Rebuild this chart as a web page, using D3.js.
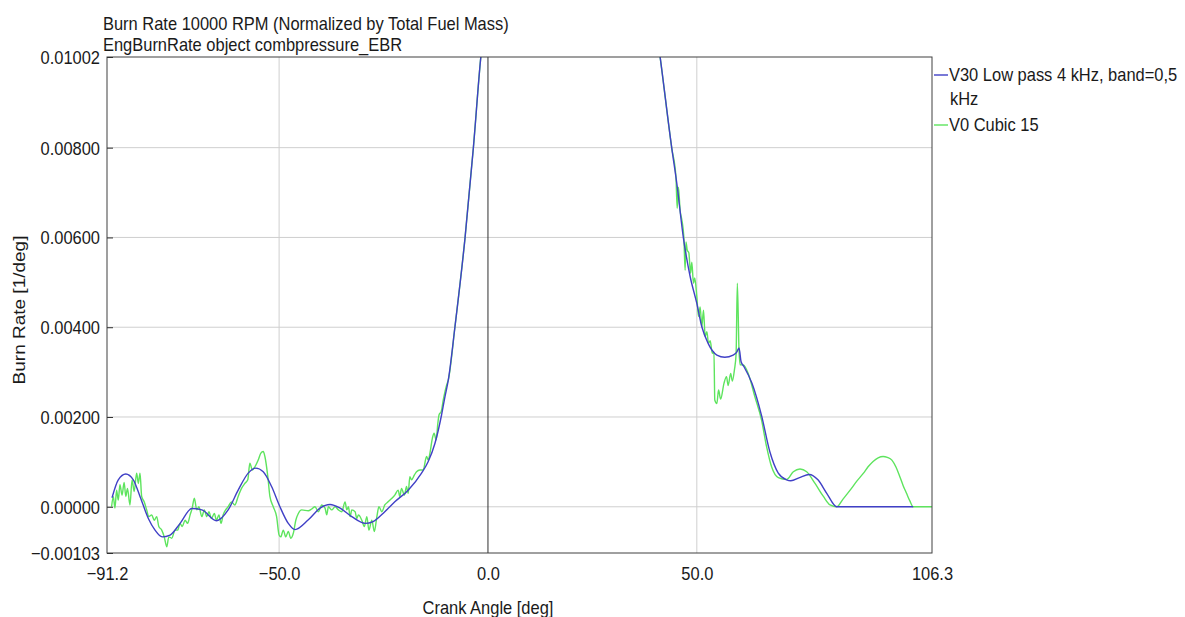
<!DOCTYPE html>
<html>
<head>
<meta charset="utf-8">
<script src="https://cdn.jsdelivr.net/npm/d3@7"></script>
<style>
    body {margin: 0; background: #fff;}
    text {font-family: "Liberation Sans", Arial, sans-serif; fill: #1a1a1a; font-size: 18.5px;
        transform-box: fill-box; transform: scaleX(0.89);}
    text.vertical {font-size: 19px; transform: scaleY(0.86);}
</style>
</head>
<body>
<svg id="chart" width="1185" height="617"></svg>
<script>
const titleLines = ["Burn Rate 10000 RPM (Normalized by Total Fuel Mass)", "EngBurnRate object combpressure_EBR"]
const xLabel = "Crank Angle [deg]"
const yLabel = "Burn Rate [1/deg]"
const xTicks = [-91.2, -50.0, 0.0, 50.0, 106.3]
const yTicks = [-0.00103, 0.0, 0.002, 0.004, 0.006, 0.008, 0.01002]
const seriesNames = [["V30 Low pass 4 kHz, band=0,5", "kHz"], ["V0 Cubic 15"]]

// V30 low pass (smooth) - crank angle / burn rate
const angleV30 = [-90.0, -88.5, -86.7, -84.9, -83.3, -81.3, -79.7, -78.0, -76.1, -73.7, -70.9, -68.5, -65.0, -62.2,
    -59.8, -57.4, -55.6, -53.8, -51.8, -49.8, -47.8, -46.2, -43.0, -40.2, -37.8, -35.4, -32.6, -29.4, -27.5, -24.7,
    -22.3, -19.1, -15.9, -14.3, -12.7, -11.1, -10.3, -9.5, -7.9, -5.5, -3.5, -1.7, -0.5, 2.0, 5.0, 10.0, 15.0, 20.0,
    25.0, 30.0, 35.0, 39.0, 41.2, 44.0, 45.2, 46.8, 48.4, 50.0, 51.2, 52.7, 54.8, 56.7, 58.7, 59.6, 60.1, 60.6, 61.3,
    63.2, 65.5, 67.5, 69.5, 71.5, 72.5, 74.6, 76.9, 79.0, 81.1, 83.5, 101.8]
const rateV30 = [0.00020, 0.00060, 0.00073, 0.00060, 0.00023, -0.00026, -0.00052, -0.00067, -0.00063, -0.00037,
    -0.00004, -0.00007, -0.00031, -0.00007, 0.00037, 0.00075, 0.00086, 0.00078, 0.00045, 0.00000, -0.00037, -0.00051,
    -0.00029, -0.00003, 0.00005, -0.00003, -0.00022, -0.00037, -0.00033, -0.00011, 0.00011, 0.00037, 0.00075, 0.00101,
    0.00141, 0.00205, 0.00245, 0.00282, 0.00401, 0.00598, 0.00799, 0.01003, 0.0110, 0.0128, 0.0152, 0.0185, 0.0205,
    0.0210, 0.0200, 0.0175, 0.0140, 0.0115, 0.01003, 0.00799, 0.00721, 0.00598, 0.00513, 0.00453, 0.00401, 0.00364,
    0.00338, 0.00333, 0.00338, 0.00345, 0.00354, 0.00323, 0.00312, 0.00275, 0.00203, 0.00122, 0.00075, 0.00060,
    0.00058, 0.00065, 0.00072, 0.00060, 0.00030, 0.00000, 0.00000]

// V0 cubic (noisy) - crank angle / burn rate
const angleV0 = [-90.1, -89.7, -89.3, -88.9, -88.5, -88.1, -87.6, -87.1, -86.7, -86.3, -85.7, -85.2, -84.7, -84.1,
    -83.7, -83.3, -82.9, -82.3, -81.7, -81.2, -80.5, -79.9, -79.3, -78.8, -78.1, -77.5, -76.9, -76.4, -75.7, -74.9,
    -74.3, -73.7, -73.2, -72.5, -71.9, -71.3, -70.8, -70.3, -69.7, -69.2, -68.5, -67.9, -67.3, -66.8, -66.2, -65.5,
    -65.0, -64.4, -63.9, -63.4, -62.8, -62.2, -61.4, -60.6, -59.8, -59.0, -58.2, -57.5, -57.0, -56.4, -55.8, -55.0,
    -54.4, -53.8, -53.4, -52.7, -52.2, -51.4, -50.6, -50.0, -49.6, -49.0, -48.4, -47.8, -47.2, -46.6, -46.0, -45.4,
    -44.6, -43.0, -42.2, -41.4, -40.6, -39.8, -39.0, -38.6, -38.2, -37.4, -36.6, -35.8, -35.0, -34.2, -33.8, -33.4,
    -33.0, -32.6, -31.8, -31.4, -31.0, -30.2, -29.6, -29.0, -28.5, -27.8, -27.2, -26.6, -26.1, -25.4, -24.7, -23.9,
    -23.0, -22.3, -21.5, -21.1, -20.7, -20.0, -19.5, -19.1, -18.7, -18.3, -17.6, -17.1, -16.3, -15.5, -14.7, -14.3,
    -13.9, -13.3, -12.9, -12.4, -12.0, -11.7, -11.2, -10.7, -9.9, -9.5, -7.9, -5.5, -3.5, -1.7, -0.5, 2.0, 5.0, 10.0,
    15.0, 20.0, 25.0, 30.0, 35.0, 39.0, 41.2, 44.0, 45.0, 45.3, 45.6, 46.0, 46.4, 46.9, 47.2, 47.4, 47.7, 48.1, 48.5,
    48.8, 49.2, 49.5, 50.0, 50.4, 50.8, 51.2, 51.6, 52.0, 52.4, 52.8, 53.2, 53.7, 54.1, 54.3, 54.8, 55.2, 55.7, 56.5,
    57.1, 57.5, 58.1, 58.5, 59.0, 59.4, 59.7, 60.1, 60.4, 61.1, 62.3, 63.9, 65.5, 66.7, 67.9, 69.5, 71.5, 73.1, 74.7,
    76.3, 78.3, 80.3, 81.9, 83.5, 85.0, 86.7, 88.3, 89.9, 91.0, 92.2, 93.4, 94.6, 95.6, 96.7, 97.7, 98.6, 99.4, 100.2,
    101.0, 101.8, 106.3]
const rateV0 = [0.00000, 0.00023, -0.00003, 0.00037, 0.00015, 0.00049, 0.00026, 0.00054, 0.00023, 0.00041, 0.00004,
    0.00060, 0.00034, 0.00075, 0.00052, 0.00075, 0.00023, 0.00011, -0.00007, -0.00022, -0.00018, -0.00030, -0.00022,
    -0.00044, -0.00052, -0.00067, -0.00089, -0.00067, -0.00070, -0.00052, -0.00052, -0.00037, -0.00044, -0.00030,
    -0.00037, -0.00018, -0.00003, 0.00019, -0.00007, 0.00000, -0.00022, -0.00007, -0.00022, -0.00011, -0.00026,
    -0.00015, -0.00030, -0.00018, -0.00037, -0.00018, -0.00007, 0.00000, 0.00011, 0.00004, 0.00023, 0.00041, 0.00052,
    0.00060, 0.00097, 0.00082, 0.00089, 0.00104, 0.00119, 0.00123, 0.00112, 0.00067, 0.00023, 0.00000, -0.00022,
    -0.00063, -0.00067, -0.00052, -0.00067, -0.00055, -0.00070, -0.00059, -0.00030, -0.00015, -0.00007, -0.00009,
    -0.00005, 0.00000, -0.00011, 0.00004, -0.00003, -0.00018, 0.00000, -0.00007, 0.00000, -0.00007, -0.00011, 0.00011,
    -0.00007, 0.00000, -0.00022, -0.00007, -0.00011, -0.00026, -0.00018, -0.00030, -0.00044, -0.00022, -0.00052,
    -0.00030, -0.00055, -0.00022, 0.00000, -0.00011, 0.00004, 0.00011, 0.00019, 0.00026, 0.00037, 0.00023, 0.00041,
    0.00026, 0.00045, 0.00030, 0.00067, 0.00060, 0.00071, 0.00078, 0.00082, 0.00082, 0.00112, 0.00104, 0.00119,
    0.00153, 0.00164, 0.00149, 0.00186, 0.00205, 0.00212, 0.00238, 0.00271, 0.00282, 0.00401, 0.00598, 0.00799,
    0.01003, 0.0110, 0.0128, 0.0152, 0.0185, 0.0205, 0.0210, 0.0200, 0.0175, 0.0140, 0.0115, 0.01003, 0.00799,
    0.00735, 0.00665, 0.00712, 0.00660, 0.00640, 0.00600, 0.00527, 0.00590, 0.00572, 0.00565, 0.00520, 0.00545,
    0.00498, 0.00510, 0.00468, 0.00424, 0.00445, 0.00401, 0.00438, 0.00379, 0.00390, 0.00364, 0.00370, 0.00342,
    0.00345, 0.00238, 0.00230, 0.00260, 0.00240, 0.00275, 0.00290, 0.00270, 0.00297, 0.00280, 0.00305, 0.00340,
    0.00498, 0.00349, 0.00316, 0.00316, 0.00297, 0.00245, 0.00193, 0.00134, 0.00089, 0.00065, 0.00061, 0.00078,
    0.00084, 0.00078, 0.00052, 0.00023, 0.00004, 0.00000, 0.00017, 0.00037, 0.00057, 0.00075, 0.00089, 0.00101,
    0.00109, 0.00112, 0.00110, 0.00104, 0.00088, 0.00067, 0.00047, 0.00030, 0.00013, 0.00000, 0.00000]

const colors = ["#4040c6", "#5ee45e"]

const margin = {top: 57, right: 253, bottom: 64, left: 107}
const width = 1185 - margin.left - margin.right
const height = 617 - margin.top - margin.bottom

const x = d3.scaleLinear()
    .domain([xTicks[0], xTicks[xTicks.length - 1]])
    .range([0, width])

const y = d3.scaleLinear()
    .domain([yTicks[0], yTicks[yTicks.length - 1]])
    .range([height, 0])

const svg = d3.select("#chart")
    .append("g")
    .attr("transform", "translate(" + margin.left + "," + margin.top + ")")

svg.append("clipPath")
    .attr("id", "plot-clip")
    .append("rect")
    .attr("width", width)
    .attr("height", height)

// Grid lines
svg.append("g")
    .selectAll("line")
    .data(yTicks.slice(1, -1))
    .enter()
    .append("line")
    .attr("x1", 0)
    .attr("x2", width)
    .attr("y1", d => y(d))
    .attr("y2", d => y(d))
    .style("stroke", "#cfcfcf")

svg.append("g")
    .selectAll("line")
    .data(xTicks.slice(1, -1))
    .enter()
    .append("line")
    .attr("x1", d => x(d))
    .attr("x2", d => x(d))
    .attr("y1", 0)
    .attr("y2", height)
    .style("stroke", d => d === 0 ? "#303030" : "#cfcfcf")

// Curves
const seriesData = [
    angleV30.map((a, i) => [a, rateV30[i]]),
    angleV0.map((a, i) => [a, rateV0[i]])
]
const line = d3.line()
    .x(d => x(d[0]))
    .y(d => y(d[1]))
    .curve(d3.curveMonotoneX)

const curves = svg.append("g").attr("clip-path", "url(#plot-clip)")
curves.append("path")
    .datum(seriesData[1])
    .attr("d", line)
    .style("fill", "none")
    .style("stroke", colors[1])
    .style("stroke-width", 1.4)
curves.append("path")
    .datum(seriesData[0])
    .attr("d", line)
    .style("fill", "none")
    .style("stroke", colors[0])
    .style("stroke-width", 1.4)

// Frame
svg.append("rect")
    .attr("width", width)
    .attr("height", height)
    .style("fill", "none")
    .style("stroke", "#404040")

// Add the Y Axis (inner ticks, labels on the left)
const yAxis = svg.append("g")
    .call(d3.axisRight(y).tickValues(yTicks).tickFormat(d3.format(".5f")).tickSize(6))
yAxis.select(".domain").remove()
yAxis.selectAll("line").style("stroke", "#303030")
yAxis.selectAll("text")
    .attr("x", -7)
    .attr("dy", "0.35em")
    .attr("fill", null)
    .style("text-anchor", "end")
    .style("transform-origin", "right center")

// Add the X Axis
const xAxis = svg.append("g")
    .attr("transform", "translate(0," + height + ")")
    .call(d3.axisBottom(x).tickValues(xTicks).tickFormat(d3.format(".1f")).tickSize(0))
xAxis.select(".domain").remove()
xAxis.selectAll("text")
    .attr("y", 21)
    .attr("dy", "0.35em")
    .attr("fill", null)
    .style("transform-origin", "center center")
d3.selectAll("svg g").attr("font-size", null).attr("font-family", null)

// Axis titles
svg.append("text")
    .attr("x", x(0))
    .attr("y", height + 61)
    .style("text-anchor", "middle")
    .style("transform-origin", "center center")
    .text(xLabel)

svg.append("g")
    .attr("transform", "translate(" + (19 - margin.left) + "," + (310 - margin.top) + ") rotate(-90)")
    .append("text")
    .attr("class", "vertical")
    .attr("dy", "0.35em")
    .style("text-anchor", "middle")
    .style("transform-origin", "center center")
    .text(yLabel)

// Title
d3.select("#chart").selectAll(".title")
    .data(titleLines)
    .enter()
    .append("text")
    .attr("class", "title")
    .attr("x", 103)
    .attr("y", (d, i) => 30 + i * 21)
    .style("transform-origin", "left center")
    .text(d => d)

// Legend
const legend = svg.append("g")
    .attr("transform", "translate(" + (width + 2) + ",0)")
let rowY = 18
seriesNames.forEach((names, i) => {
    legend.append("line")
        .attr("x1", 0)
        .attr("x2", 14)
        .attr("y1", rowY)
        .attr("y2", rowY)
        .style("stroke", colors[i])
        .style("stroke-width", 1.4)
    names.forEach((label, j) => {
        legend.append("text")
            .attr("x", j === 0 ? 15 : 16)
            .attr("y", rowY + j * 24)
            .attr("dy", "0.35em")
            .style("transform-origin", "left center")
            .text(label)
    })
    rowY += names.length * 24 + 2
})
</script>
</body>
</html>
